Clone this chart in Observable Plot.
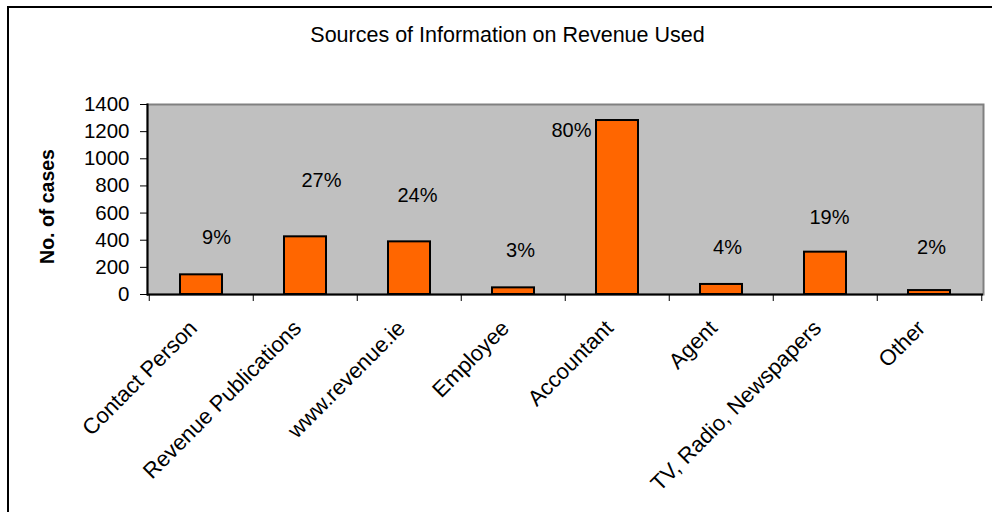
<!DOCTYPE html>
<html>
<head>
<meta charset="utf-8">
<script src="https://cdn.jsdelivr.net/npm/d3@7"></script>
<script src="https://cdn.jsdelivr.net/npm/@observablehq/plot@0.6"></script>
<style>
  html, body { margin: 0; padding: 0; background: #fff; }
  #wrap { position: relative; width: 992px; height: 512px; overflow: hidden; }
  #frameDeco { position: absolute; left: 7px; top: 6px; width: 1200px; height: 800px;
    border-top: 2px solid #000; border-left: 2px solid #000; pointer-events: none; }
</style>
</head>
<body>
<div id="wrap"><div id="frameDeco"></div></div>
<script>
const categories = ["Contact Person", "Revenue Publications", "www.revenue.ie", "Employee",
  "Accountant", "Agent", "TV, Radio, Newspapers", "Other"];
const cases = [145, 425, 388, 49, 1282, 74, 312, 29];
const percentLabels = ["9%", "27%", "24%", "3%", "80%", "4%", "19%", "2%"];
// height (in cases) at which each percentage label sits in the original
const labelAt = [422, 840, 730, 324, 1208, 349, 570, 349];
const labelShift = [15, 16, 8, 7, -46, 6, 4, 2];
const yTicks = [0, 200, 400, 600, 800, 1000, 1200, 1400];
const title = "Sources of Information on Revenue Used";
const yLabel = "No. of cases";

const data = categories.map((c, i) => ({
  category: c, cases: cases[i], pct: percentLabels[i], at: labelAt[i], shift: labelShift[i]
}));

const W = 992, H = 512;
const mL = 147, mR = 9, mT = 104, mB = 218;
const bw = (W - mL - mR) / categories.length;

const chart = Plot.plot({
  width: W, height: H,
  marginLeft: mL, marginRight: mR, marginTop: mT, marginBottom: mB,
  style: { fontFamily: "'Liberation Sans', Arial, sans-serif", fontSize: "20px", color: "#000", background: "transparent", overflow: "visible" },
  x: { domain: categories, padding: 0, label: null },
  y: { domain: [0, 1400], label: null },
  marks: [
    Plot.frame({ fill: "#c0c0c0", stroke: "#808080", strokeWidth: 2 }),
    Plot.barY(data, { x: "category", y: "cases", fill: "#FF6600", stroke: "#000", strokeWidth: 2, insetLeft: 31, insetRight: 31 }),
    ...data.map(d => Plot.text([d], { x: "category", y: "at", text: "pct", fontSize: 20, fill: "#000", dx: d.shift })),
    Plot.ruleY([0], { stroke: "#000", strokeWidth: 2 }),
    Plot.frame({ anchor: "left", stroke: "#000", strokeWidth: 2 }),
    Plot.axisY({ ticks: yTicks, tickFormat: d3.format("d"), tickSize: 7, tickPadding: 11, fontSize: 20.5, label: null, stroke: "#000" }),
    Plot.axisX({ tickSize: 7, dx: -bw / 2, tickFormat: () => "", label: null, stroke: "#000" }),
    Plot.axisX({ ticks: [categories[categories.length - 1]], tickSize: 7, dx: bw / 2, tickFormat: () => "", label: null, stroke: "#000" }),
    Plot.axisX({ tickSize: 0, tickRotate: -45, tickPadding: 20, fontSize: 22, dx: -8, dy: 10, label: null }),
    Plot.text([yLabel], { frameAnchor: "left", textAnchor: "middle", lineAnchor: "middle", rotate: -90, dx: -100, dy: 7, fontWeight: "bold", fontSize: 19.5, fill: "#000" }),
    Plot.text([title], { frameAnchor: "top", lineAnchor: "middle", dx: -58, dy: -69, fontSize: 21.5, fill: "#000" })
  ]
});
document.getElementById("wrap").prepend(chart);
</script>
</body>
</html>
